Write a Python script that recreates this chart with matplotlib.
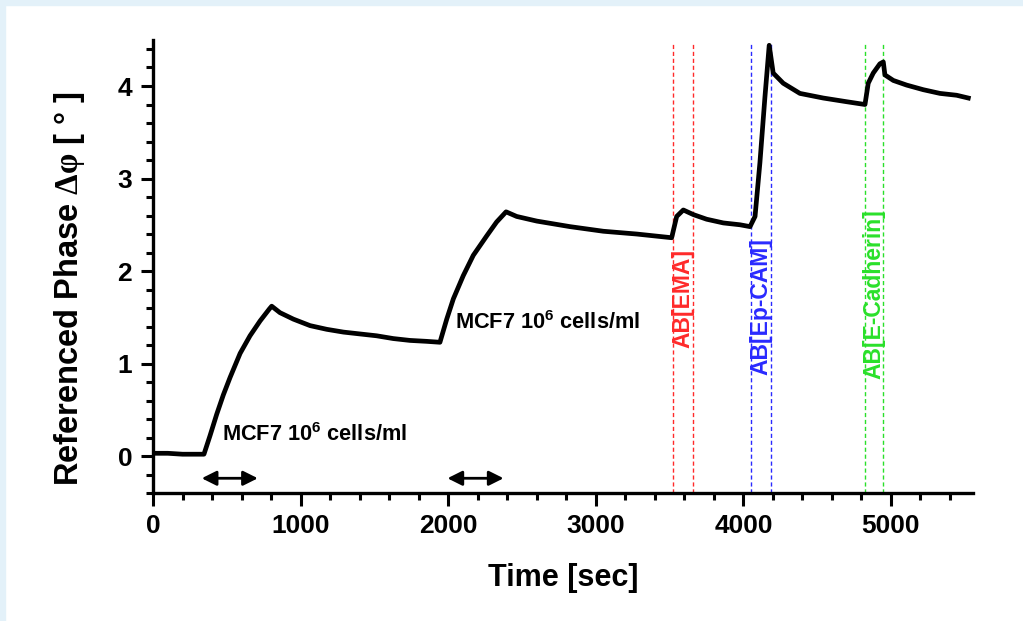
import matplotlib
matplotlib.use("Agg")
import matplotlib.pyplot as plt
from matplotlib.patches import Rectangle
from matplotlib.ticker import MultipleLocator

plt.rcParams['font.family'] = ['Liberation Sans', 'DejaVu Sans']
plt.rcParams['font.weight'] = 'bold'
plt.rcParams['mathtext.fontset'] = 'custom'
plt.rcParams['mathtext.rm'] = 'Liberation Serif'
plt.rcParams['mathtext.bf'] = 'Liberation Sans:bold'

time_s = [0, 100, 200, 300, 345, 386, 431, 476, 522, 590, 657, 725, 788, 804,
          860, 951, 1064, 1177, 1290, 1402, 1515, 1628, 1741, 1854, 1944,
          1990, 2035, 2102, 2170, 2261, 2328, 2392, 2464, 2600, 2825, 3051,
          3277, 3514, 3548, 3593, 3661, 3751, 3864, 3977, 4045, 4079, 4112,
          4146, 4175, 4202, 4270, 4383, 4541, 4700, 4824, 4846, 4880, 4925,
          4948, 4959, 5016, 5106, 5219, 5332, 5445, 5524]
phase = [0.03, 0.03, 0.02, 0.02, 0.02, 0.22, 0.45, 0.66, 0.85, 1.11, 1.30,
         1.46, 1.59, 1.62, 1.55, 1.48, 1.41, 1.37, 1.34, 1.32, 1.30, 1.27,
         1.25, 1.24, 1.23, 1.48, 1.70, 1.95, 2.17, 2.38, 2.53, 2.64, 2.59,
         2.54, 2.48, 2.43, 2.40, 2.36, 2.59, 2.66, 2.61, 2.56, 2.52, 2.50,
         2.48, 2.59, 3.17, 3.88, 4.44, 4.14, 4.03, 3.92, 3.87, 3.83, 3.80,
         4.03, 4.14, 4.24, 4.26, 4.12, 4.06, 4.01, 3.96, 3.92, 3.90, 3.87]

# antibody injections
ab_labels = ['AB[EMA]', 'AB[Ep-CAM]', 'AB[E-Cadherin]']
ab_start = [3523, 4051, 4824]
ab_end = [3659, 4187, 4946]
ab_colors = ['#ff2a2a', '#2a2aff', '#2ae02a']
ab_label_y = [1.17, 0.88, 0.83]

# cell injections
cell_label = 'MCF7 10$^{\\mathbf{6}}$ cells/ml'
cell_label_pos = [(470, 0.11), (2045, 1.32)]
arrow_ranges = [(330, 710), (1995, 2375)]

fig = plt.figure(figsize=(10.23, 6.21), dpi=100)
ax = fig.add_axes([0.1496, 0.206, 0.8014, 0.730])

for x0, x1, c in zip(ab_start, ab_end, ab_colors):
    ax.vlines([x0, x1], -0.4, 4.46, colors=c, linestyles=(0, (3, 2)), lw=1)

ax.plot(time_s, phase, color='black', lw=3.4, solid_joinstyle='round')

for lab, x0, x1, c, yb in zip(ab_labels, ab_start, ab_end, ab_colors, ab_label_y):
    ax.text((x0 + x1) / 2, yb, lab, rotation=90, color=c, fontsize=16.5,
            ha='center', va='bottom', fontweight='bold')

for (tx, ty) in cell_label_pos:
    ax.text(tx, ty, cell_label, fontsize=15.7, fontweight='bold',
            ha='left', va='bottom')

for a, b in arrow_ranges:
    ax.annotate('', xy=(a, -0.24), xytext=(b, -0.24),
                arrowprops=dict(arrowstyle='<|-|>', color='black', lw=2,
                                mutation_scale=22, shrinkA=0, shrinkB=0))

ax.set_xlim(0, 5555)
ax.set_ylim(-0.4, 4.5)
ax.xaxis.set_major_locator(MultipleLocator(1000))
ax.xaxis.set_minor_locator(MultipleLocator(200))
ax.yaxis.set_major_locator(MultipleLocator(1))
ax.yaxis.set_minor_locator(MultipleLocator(0.2))

for s in ['top', 'right']:
    ax.spines[s].set_visible(False)
for s in ['left', 'bottom']:
    ax.spines[s].set_linewidth(2.4)

ax.tick_params(which='major', direction='out', length=9, width=2.2,
               labelsize=19, pad=6)
ax.tick_params(which='minor', direction='out', length=5, width=2.2)

ax.set_xlabel('Time [sec]', fontsize=22, fontweight='bold', labelpad=18)
ax.set_ylabel('Referenced Phase $\\mathrm{\\Delta\\varphi}$ [ ° ]',
              fontsize=23.5, fontweight='bold')
ax.yaxis.set_label_coords(-0.08, 0.452)

# light blue frame strips along top and left
fig.patches.append(Rectangle((0, 1 - 5 / 621), 1, 5 / 621,
                             transform=fig.transFigure, color='#e3f1f9'))
fig.patches.append(Rectangle((0, 0), 5 / 1023, 1,
                             transform=fig.transFigure, color='#e3f1f9'))

fig.savefig('out.png', dpi=100)
